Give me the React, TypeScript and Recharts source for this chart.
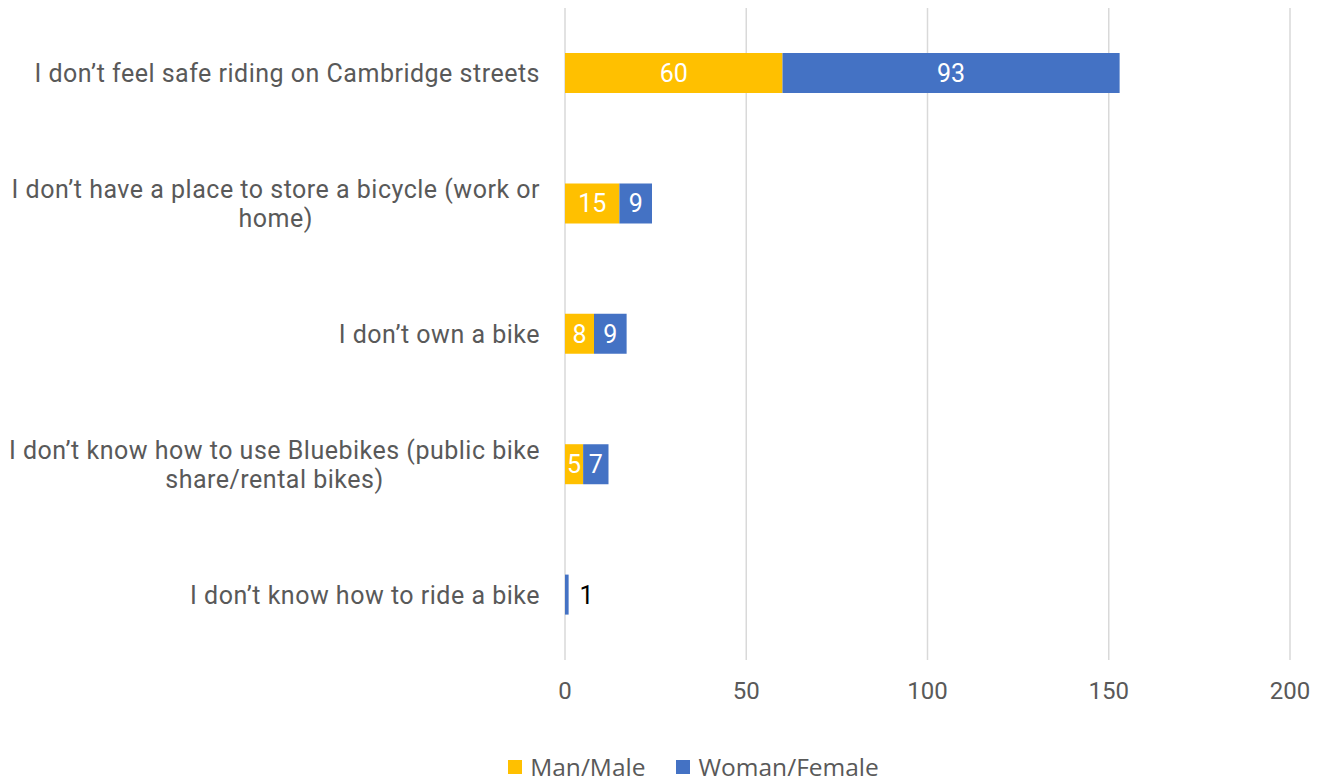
import { BarChart, Bar, XAxis, YAxis, CartesianGrid, Legend, LabelList } from "recharts";

const categories = [
  "I don’t feel safe riding on Cambridge streets",
  "I don’t have a place to store a bicycle (work or home)",
  "I don’t own a bike",
  "I don’t know how to use Bluebikes (public bike share/rental bikes)",
  "I don’t know how to ride a bike",
];
const manValues = [60, 15, 8, 5, 0];
const womanValues = [93, 9, 9, 7, 1];
const xTicks = [0, 50, 100, 150, 200];

const FONT = "Roboto, 'DejaVu Sans', sans-serif";
const GREY = "#595959";
const LS = 0.5;

const data = categories.map((name, i) => ({
  name,
  man: manValues[i],
  woman: womanValues[i],
}));

let ctx: CanvasRenderingContext2D | null = null;
function measure(text: string, size: number) {
  if (!ctx) ctx = document.createElement("canvas").getContext("2d");
  if (!ctx) return text.length * size * 0.5;
  ctx.font = `${size}px ${FONT}`;
  return ctx.measureText(text).width + text.length * LS;
}

function wrap(text: string, maxChars: number) {
  const words = text.split(" ");
  const lines: string[] = [];
  let cur = "";
  words.forEach(w => {
    const next = cur ? cur + " " + w : w;
    if (next.length > maxChars && cur) {
      lines.push(cur);
      cur = w;
    } else cur = next;
  });
  if (cur) lines.push(cur);
  return lines;
}

const CategoryTick = (props: any) => {
  const { y, payload } = props;
  const size = 25;
  const lines = wrap(payload.value, 50);
  const widths = lines.map(l => measure(l, size));
  const block = Math.max(...widths);
  const cx = 540 - block / 2;
  const lh = 29;
  const y0 = y - ((lines.length - 1) * lh) / 2;
  return (
    <text fontFamily={FONT} fontSize={size} fill={GREY} textAnchor="middle" letterSpacing={LS}>
      {lines.map((l, i) => (
        <tspan key={i} x={cx} y={y0 + i * lh} dy="0.36em">
          {l}
        </tspan>
      ))}
    </text>
  );
};

const ValueLabel = (props: any) => {
  const { x, y, width, height, value } = props;
  if (!value) return null;
  const inside = width > 14;
  return (
    <text
      x={inside ? x + width / 2 : x + width + 18}
      y={y + height / 2}
      dy="0.36em"
      textAnchor="middle"
      fontFamily={FONT}
      fontSize={25}
      fill={inside ? "#ffffff" : "#000000"}
    >
      {value}
    </text>
  );
};

const LegendContent = () => (
  <div
    style={{
      display: "flex",
      justifyContent: "center",
      gap: 31,
      fontFamily: "'Open Sans', sans-serif",
      fontSize: 24.5,
      color: GREY,
      paddingLeft: 97,
      paddingTop: 30,
    }}
  >
    {[
      { label: "Man/Male", color: "#FFC000" },
      { label: "Woman/Female", color: "#4472C4" },
    ].map(item => (
      <div key={item.label} style={{ display: "flex", alignItems: "center" }}>
        <span style={{ width: 14, height: 14, background: item.color, marginRight: 8, display: "inline-block" }} />
        {item.label}
      </div>
    ))}
  </div>
);

export default function App() {
  return (
    <div style={{ position: "absolute", left: 0, top: 0, background: "#fff" }}>
      <style>{`body{margin:0}`}</style>
      <BarChart
        width={1320}
        height={784}
        data={data}
        layout="vertical"
        margin={{ top: 8, right: 30, left: 0, bottom: 0 }}
      >
        <CartesianGrid horizontal={false} stroke="#D9D9D9" strokeWidth={1.5} />
        <XAxis
          type="number"
          domain={[0, 200]}
          ticks={xTicks}
          axisLine={false}
          tickLine={false}
          height={60}
          tick={{ fontFamily: FONT, fontSize: 24, fill: GREY }}
          tickMargin={16}
        />
        <YAxis
          type="category"
          dataKey="name"
          width={565}
          axisLine={false}
          tickLine={false}
          tick={<CategoryTick />}
        />
        <Legend verticalAlign="bottom" height={64} content={<LegendContent />} />
        <Bar dataKey="man" name="Man/Male" stackId="a" fill="#FFC000" barSize={40} isAnimationActive={false}>
          <LabelList dataKey="man" content={<ValueLabel />} />
        </Bar>
        <Bar dataKey="woman" name="Woman/Female" stackId="a" fill="#4472C4" barSize={40} isAnimationActive={false}>
          <LabelList dataKey="woman" content={<ValueLabel />} />
        </Bar>
      </BarChart>
    </div>
  );
}
